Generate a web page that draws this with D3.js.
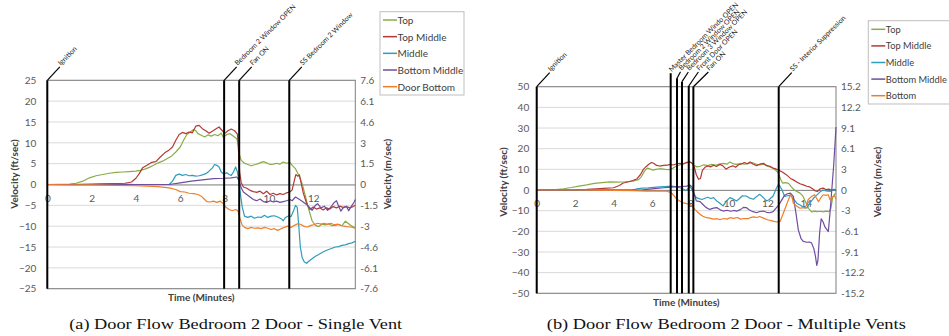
<!DOCTYPE html>
<html>
<head>
<meta charset="utf-8">
<script src="https://cdn.jsdelivr.net/npm/d3@7"></script>
<style>
  html, body { margin: 0; padding: 0; background: #ffffff; }
  svg { display: block; }
  .tick text { font-family: Lato, "Liberation Sans", sans-serif; font-size: 10px; fill: #595959; }
</style>
</head>
<body>
<svg id="chart" width="949" height="336"></svg>
<script>
// ---------- Panel (a): Door Flow Bedroom 2 Door - Single Vent ----------
// each series: [time (minutes), velocity (ft/sec)]
const aTop = [[0,0],[0.5,0.05],[1,0.1],[1.3,0.3],[1.6,0.8],[1.9,1.6],[2.2,2.1],[2.5,2.4],[2.8,2.7],[3.1,2.9],[3.4,3.0],[3.7,3.1],[4.0,3.2],[4.2,3.4],[4.4,3.7],[4.6,4.1],[4.8,4.6],[5.0,5.2],[5.2,5.6],[5.4,6.2],[5.6,6.8],[5.8,7.8],[6.0,9.0],[6.15,10.6],[6.3,12.0],[6.45,12.6],[6.6,13.2],[6.7,12.9],[6.8,12.2],[6.95,11.8],[7.1,11.4],[7.25,11.9],[7.4,11.6],[7.55,12.0],[7.7,11.7],[7.85,12.3],[7.95,11.3],[8.1,12.0],[8.25,12.2],[8.4,11.6],[8.55,11.0],[8.62,9.5],[8.68,7.0],[8.75,5.8],[8.9,5.1],[9.05,4.8],[9.2,4.5],[9.4,4.8],[9.6,5.2],[9.75,5.5],[9.9,5.2],[10.05,4.8],[10.2,4.9],[10.35,5.1],[10.5,4.9],[10.65,5.4],[10.8,5.1],[10.95,5.3],[11.05,4.6],[11.2,3.8],[11.35,2.2],[11.5,0.2],[11.65,-2.8],[11.8,-6.0],[11.95,-8.7],[12.1,-9.8],[12.25,-10.1],[12.4,-9.5],[12.55,-9.7],[12.7,-9.4],[12.85,-9.9],[13.0,-9.8],[13.15,-9.6],[13.3,-9.9],[13.45,-8.8],[13.6,-9.4],[13.75,-10.0],[13.9,-10.4]];
const aTopMiddle = [[0,0],[1,0],[2,0.1],[3,0.2],[3.5,0.3],[3.8,0.6],[4.0,1.5],[4.15,2.6],[4.3,4.0],[4.5,4.6],[4.7,5.3],[4.9,5.5],[5.1,6.6],[5.3,7.6],[5.5,8.3],[5.65,9.0],[5.8,10.6],[5.95,12.0],[6.1,12.5],[6.25,12.2],[6.4,12.6],[6.55,12.4],[6.7,14.0],[6.85,14.2],[7.0,13.4],[7.15,12.9],[7.3,12.3],[7.45,12.8],[7.6,13.3],[7.75,13.8],[7.9,12.9],[8.0,12.2],[8.15,12.9],[8.3,13.3],[8.45,12.9],[8.58,12.1],[8.63,8.0],[8.68,3.0],[8.75,0.5],[8.85,-0.6],[9.0,-0.9],[9.15,-1.4],[9.3,-1.7],[9.45,-1.9],[9.6,-1.6],[9.75,-2.2],[9.9,-1.6],[10.05,-2.4],[10.2,-2.1],[10.35,-2.5],[10.5,-2.2],[10.65,-2.4],[10.8,-2.0],[10.95,-1.8],[11.05,-1.3],[11.15,1.0],[11.22,2.4],[11.3,2.0],[11.38,2.3],[11.45,0.5],[11.55,-2.0],[11.7,-4.5],[11.85,-6.0],[12.0,-5.4],[12.15,-5.9],[12.3,-5.6],[12.45,-6.1],[12.6,-5.6],[12.75,-5.9],[12.9,-5.3],[13.05,-5.6],[13.2,-5.2],[13.35,-5.5],[13.5,-5.3],[13.65,-5.6],[13.8,-5.3],[13.9,-5.0]];
const aMiddle = [[0,0],[1,0],[2,0],[3,0.05],[4,0],[5,0],[5.5,0],[5.65,0.8],[5.8,2.2],[5.95,2.5],[6.1,2.2],[6.25,2.4],[6.4,2.1],[6.55,2.2],[6.7,2.0],[6.85,2.1],[7.0,2.3],[7.15,2.6],[7.3,3.2],[7.45,4.0],[7.55,4.8],[7.65,4.6],[7.75,4.2],[7.85,3.0],[7.95,2.6],[8.1,2.8],[8.2,2.4],[8.3,2.2],[8.4,3.0],[8.5,4.2],[8.58,3.0],[8.65,0.5],[8.72,-2.5],[8.8,-5.5],[8.9,-7.6],[9.05,-7.9],[9.2,-7.6],[9.35,-8.1],[9.5,-7.8],[9.65,-7.9],[9.8,-7.4],[9.95,-7.9],[10.1,-7.6],[10.25,-7.5],[10.4,-7.8],[10.55,-8.2],[10.65,-8.7],[10.75,-7.9],[10.9,-7.5],[11.0,-7.7],[11.1,-6.5],[11.2,-5.0],[11.28,-5.5],[11.35,-10.0],[11.42,-15.0],[11.5,-17.5],[11.6,-18.6],[11.7,-18.9],[11.8,-18.4],[11.95,-17.8],[12.1,-17.2],[12.25,-16.8],[12.4,-16.3],[12.55,-15.9],[12.7,-15.6],[12.85,-15.3],[13.0,-15.0],[13.15,-14.9],[13.3,-14.6],[13.45,-14.5],[13.6,-14.2],[13.75,-14.0],[13.9,-13.6]];
const aBottomMiddle = [[0,0],[1,0],[2,0],[3,0.1],[4,0],[5,0],[5.5,0],[6.0,0.4],[6.5,0.8],[7.0,1.1],[7.5,1.4],[8.0,1.5],[8.3,1.6],[8.55,1.8],[8.65,1.0],[8.75,-0.8],[8.85,-1.8],[9.0,-2.4],[9.15,-3.0],[9.3,-3.6],[9.45,-3.9],[9.6,-3.5],[9.75,-4.1],[9.9,-4.3],[10.05,-3.9],[10.2,-4.2],[10.35,-4.0],[10.5,-4.3],[10.65,-4.1],[10.8,-3.9],[10.95,-3.6],[11.05,-3.9],[11.2,-3.0],[11.35,-3.5],[11.5,-4.0],[11.65,-4.6],[11.8,-5.3],[11.95,-6.2],[12.1,-5.0],[12.2,-4.6],[12.35,-5.6],[12.5,-5.2],[12.65,-6.2],[12.8,-5.4],[12.95,-4.3],[13.05,-3.9],[13.15,-5.2],[13.25,-6.4],[13.35,-5.6],[13.5,-5.2],[13.6,-6.3],[13.75,-5.0],[13.85,-4.2],[13.9,-3.6]];
const aDoorBottom = [[0,0],[1,-0.1],[2,-0.1],[3,-0.2],[4,-0.3],[4.5,-0.4],[5.0,-0.5],[5.5,-0.8],[5.8,-1.2],[6.0,-1.7],[6.2,-1.8],[6.4,-2.1],[6.6,-2.2],[6.8,-2.4],[6.95,-2.8],[7.1,-3.6],[7.2,-4.1],[7.35,-4.2],[7.5,-4.0],[7.65,-4.3],[7.8,-4.0],[7.95,-4.6],[8.05,-5.4],[8.2,-6.0],[8.35,-6.3],[8.5,-6.0],[8.6,-6.3],[8.7,-8.2],[8.8,-9.8],[8.9,-10.3],[9.05,-10.6],[9.2,-10.3],[9.35,-10.5],[9.5,-10.4],[9.65,-10.6],[9.8,-10.3],[9.95,-10.5],[10.1,-10.8],[10.25,-10.6],[10.4,-11.0],[10.55,-10.6],[10.7,-10.3],[10.85,-10.0],[11.0,-10.3],[11.15,-9.8],[11.3,-9.4],[11.45,-9.6],[11.6,-10.1],[11.75,-10.2],[11.9,-9.8],[12.05,-9.6],[12.2,-9.3],[12.35,-9.5],[12.5,-9.3],[12.65,-9.6],[12.8,-9.3],[12.95,-9.7],[13.1,-9.5],[13.3,-9.9],[13.5,-10.1],[13.7,-10.2],[13.9,-10.5]];
const aSeriesNames = ["Top", "Top Middle", "Middle", "Bottom Middle", "Door Bottom"];
const aEventNames = ["Ignition", "Bedroom 2 Window OPEN", "Fan ON", "SS Bedroom 2 Window"];
const aEventTimes = [0, 7.98, 8.66, 10.92];
const aLeftTicks = [-25, -20, -15, -10, -5, 0, 5, 10, 15, 20, 25];
const aRightTickLabels = ["-7.6", "-6.1", "-4.6", "-3", "-1.5", "0", "1.5", "3", "4.6", "6.1", "7.6"];
const aTimeTicks = [0, 2, 4, 6, 8, 10, 12];
const aCaption = "(a) Door Flow Bedroom 2 Door - Single Vent";

// ---------- Panel (b): Door Flow Bedroom 2 Door - Multiple Vents ----------
const bTop = [[0,0],[0.5,0],[1,0.2],[1.4,0.6],[1.8,1.2],[2.2,1.9],[2.6,2.5],[3.0,3.2],[3.4,3.6],[3.8,3.9],[4.2,3.8],[4.6,4.0],[5.0,4.3],[5.3,5.0],[5.45,6.5],[5.6,9.0],[5.75,10.6],[5.9,10.2],[6.05,9.6],[6.2,10.0],[6.4,10.3],[6.6,10.1],[6.8,9.8],[6.95,10.0],[7.1,10.6],[7.25,11.5],[7.4,12.0],[7.55,12.5],[7.7,12.9],[7.85,13.2],[7.97,13.6],[8.1,12.9],[8.2,11.8],[8.35,11.2],[8.5,11.5],[8.7,12.2],[8.9,11.8],[9.1,12.4],[9.3,12.0],[9.5,12.6],[9.7,12.9],[9.9,12.5],[10.05,13.6],[10.2,12.8],[10.4,12.4],[10.6,12.9],[10.8,12.5],[11.0,12.7],[11.2,13.3],[11.4,12.6],[11.6,12.1],[11.8,12.5],[12.0,11.5],[12.2,10.9],[12.4,9.8],[12.55,8.6],[12.7,5.0],[12.8,3.3],[12.95,3.6],[13.1,3.2],[13.25,1.5],[13.4,0.0],[13.55,-0.8],[13.7,-1.5],[13.85,-3.0],[14.0,-6.0],[14.15,-9.0],[14.3,-10.6],[14.45,-10.2],[14.6,-10.5],[14.75,-10.3],[14.9,-10.6],[15.05,-10.2],[15.2,-10.5],[15.3,-9.0],[15.4,-3.5],[15.5,-2.0],[15.57,-1.5]];
const bTopMiddle = [[0,0],[1,0],[2,0.1],[2.6,0.3],[3.1,0.6],[3.5,0.8],[4.0,1.1],[4.3,2.2],[4.5,3.4],[4.8,4.0],[5.0,4.6],[5.2,5.3],[5.4,7.5],[5.55,10.0],[5.7,11.4],[5.85,12.6],[5.98,13.3],[6.1,12.8],[6.24,11.9],[6.4,11.6],[6.6,11.9],[6.8,12.0],[6.93,12.4],[7.1,12.1],[7.25,12.6],[7.45,12.9],[7.6,12.5],[7.8,13.4],[7.97,13.6],[8.1,12.8],[8.2,11.0],[8.3,7.5],[8.42,5.2],[8.52,5.6],[8.62,9.5],[8.75,11.0],[8.9,11.6],[9.05,11.2],[9.2,12.0],[9.35,11.4],[9.53,12.4],[9.7,11.6],[9.85,10.1],[10.0,11.0],[10.2,11.7],[10.35,11.0],[10.5,12.2],[10.65,12.6],[10.8,13.3],[10.95,12.7],[11.1,13.6],[11.25,12.6],[11.44,11.8],[11.6,12.5],[11.8,12.9],[11.95,11.9],[12.13,11.5],[12.3,10.6],[12.45,10.2],[12.6,9.6],[12.8,8.6],[13.0,7.3],[13.2,5.6],[13.35,4.9],[13.55,3.8],[13.7,3.0],[13.87,2.5],[14.05,1.8],[14.2,1.5],[14.35,0.6],[14.5,-0.5],[14.6,-0.7],[14.75,0.6],[14.9,0.9],[15.05,0.2],[15.2,0.4],[15.35,-0.2],[15.45,0.3],[15.57,0.1]];
const bMiddle = [[0,0],[1,0],[2,0],[3,0],[4,0],[5,0.1],[5.2,0.5],[5.5,0.9],[5.8,1.0],[6.1,1.3],[6.4,1.5],[6.7,1.7],[7.0,1.9],[7.2,1.6],[7.4,1.2],[7.6,0.6],[7.75,-0.3],[7.85,0.4],[7.97,1.9],[8.08,0.2],[8.18,-1.8],[8.3,-3.7],[8.45,-4.2],[8.6,-4.6],[8.75,-4.0],[8.9,-3.5],[9.05,-4.1],[9.2,-3.7],[9.36,-5.3],[9.5,-6.2],[9.7,-7.7],[9.85,-5.5],[10.05,-3.7],[10.2,-4.3],[10.4,-5.3],[10.55,-4.1],[10.7,-2.8],[10.9,-2.9],[11.05,-3.8],[11.27,-4.5],[11.45,-3.1],[11.6,-2.1],[11.75,-3.3],[11.96,-5.3],[12.1,-4.6],[12.3,-2.9],[12.45,0.5],[12.57,2.7],[12.66,1.7],[12.75,0.3],[12.9,-3.1],[13.05,-2.8],[13.2,-2.5],[13.35,-4.2],[13.53,-6.4],[13.7,-7.3],[13.87,-8.2],[14.05,-8.8],[14.2,-6.4],[14.4,-4.0],[14.57,-2.5],[14.75,-0.8],[14.9,0.0],[15.05,-0.4],[15.26,-0.7],[15.4,0.2],[15.57,-0.4]];
const bBottomMiddle = [[0,0],[1,0],[2,0],[3,0],[4,0],[5,0],[5.5,0.1],[6.0,0.5],[6.6,1.1],[7.0,1.4],[7.3,1.6],[7.6,1.7],[7.8,1.9],[7.97,2.4],[8.08,1.5],[8.18,-1.5],[8.3,-5.3],[8.5,-5.6],[8.65,-7.0],[8.8,-8.4],[9.0,-9.4],[9.2,-8.8],[9.36,-8.5],[9.55,-9.6],[9.7,-10.2],[9.9,-9.8],[10.1,-10.3],[10.25,-9.9],[10.4,-10.2],[10.6,-9.5],[10.75,-8.4],[10.9,-8.5],[11.05,-9.6],[11.25,-10.5],[11.44,-11.0],[11.6,-10.4],[11.8,-10.2],[11.95,-10.8],[12.13,-11.0],[12.3,-10.5],[12.45,-8.8],[12.6,-7.2],[12.75,-4.8],[12.9,-2.5],[13.05,-1.8],[13.2,-1.5],[13.35,-3.1],[13.5,-12.0],[13.61,-19.3],[13.75,-23.5],[13.87,-24.9],[14.05,-25.3],[14.2,-25.2],[14.3,-25.7],[14.42,-28.5],[14.5,-32.0],[14.57,-36.5],[14.63,-34.0],[14.72,-20.5],[14.8,-14.0],[14.9,-15.5],[15.0,-18.0],[15.1,-19.2],[15.17,-20.1],[15.25,-12.0],[15.35,0.0],[15.45,12.0],[15.57,30.5]];
const bBottom = [[0,0],[1,0],[2,0],[3,-0.1],[4,-0.2],[5,-0.3],[5.7,-0.5],[6.2,-0.5],[6.76,-0.6],[7.0,-1.3],[7.15,-2.8],[7.3,-4.5],[7.45,-5.4],[7.6,-6.1],[7.8,-6.6],[7.97,-6.9],[8.1,-8.0],[8.23,-9.4],[8.35,-10.5],[8.5,-11.8],[8.65,-12.7],[8.84,-13.4],[9.0,-13.6],[9.2,-14.1],[9.36,-13.9],[9.55,-14.3],[9.75,-13.8],[9.9,-14.1],[10.05,-13.4],[10.25,-13.7],[10.45,-13.3],[10.6,-14.1],[10.8,-13.8],[11.0,-13.9],[11.1,-13.4],[11.3,-13.0],[11.45,-13.3],[11.6,-12.8],[11.8,-13.6],[12.0,-14.4],[12.2,-14.8],[12.35,-15.2],[12.5,-15.5],[12.66,-15.2],[12.78,-12.5],[12.9,-9.6],[13.05,-5.8],[13.2,-2.3],[13.28,-3.5],[13.35,-6.4],[13.5,-7.6],[13.7,-8.8],[13.85,-8.6],[13.96,-8.8],[14.05,-6.8],[14.12,-4.7],[14.3,-3.1],[14.45,-2.3],[14.55,-3.9],[14.66,-5.6],[14.8,-3.5],[14.9,-2.3],[15.05,-2.6],[15.17,-2.3],[15.26,-4.8],[15.4,-3.2],[15.5,-2.8],[15.57,-4.5]];
const bSeriesNames = ["Top", "Top Middle", "Middle", "Bottom Middle", "Bottom"];
const bEventNames = ["Ignition", "Master Bedroom Windo OPEN", "Bedroom 2 Window OPEN", "Bedroom 3 Window OPEN", "Front Door OPEN", "Fan ON", "SS - Interior Suppression"];
const bEventTimes = [0, 6.97, 7.30, 7.56, 7.91, 8.15, 12.59];
const bLeftTicks = [-50, -40, -30, -20, -10, 0, 10, 20, 30, 40, 50];
const bRightTickLabels = ["-15.2", "-12.2", "-9.1", "-6.1", "-3", "0", "3", "6.1", "9.1", "12.2", "15.2"];
const bTimeTicks = [0, 2, 4, 6, 8, 10, 12, 14];
const bCaption = "(b) Door Flow Bedroom 2 Door - Multiple Vents";

// ---------- shared styling ----------
const seriesColors = ["#88ad44", "#b23a36", "#2e9cbd", "#6e4e9e", "#f07d2a"];
const FT_TO_M = 0.3048;
const uiFont = "Lato, 'Liberation Sans', sans-serif";

const svg = d3.select("#chart");

function drawPanel(p) {
  const g = svg.append("g");
  const x = d3.scaleLinear().domain([0, p.tMax]).range([p.left, p.right]);
  const y = d3.scaleLinear().domain(d3.extent(p.leftTicks)).range([p.bottom, p.top]);
  const yM = d3.scaleLinear().domain(d3.extent(p.leftTicks).map(v => v * FT_TO_M)).range([p.bottom, p.top]);

  // horizontal gridlines
  g.append("g").selectAll("line").data(p.leftTicks).join("line")
    .attr("x1", p.left).attr("x2", p.right)
    .attr("y1", d => y(d)).attr("y2", d => y(d))
    .attr("stroke", "#d9d9d9").attr("stroke-width", 1);

  // plot-area frame
  g.append("rect")
    .attr("x", p.left).attr("y", p.top)
    .attr("width", p.right - p.left).attr("height", p.bottom - p.top)
    .attr("fill", "none").attr("stroke", "#7f7f7f").attr("stroke-width", 1);

  // zero line / time axis
  const xAxis = g.append("g").attr("transform", `translate(0,${y(0)})`)
    .call(d3.axisBottom(x).tickValues(p.timeTicks).tickSize(0).tickPadding(10).tickFormat(d3.format("d")));
  xAxis.select(".domain").attr("stroke", "#8c8c8c");

  // left axis (ft/sec)
  const yAxisL = g.append("g").attr("transform", `translate(${p.left},0)`)
    .call(d3.axisLeft(y).tickValues(p.leftTicks).tickSize(0).tickPadding(p.leftPad));
  yAxisL.select(".domain").remove();

  // right axis (m/sec)
  const yAxisR = g.append("g").attr("transform", `translate(${p.right},0)`)
    .call(d3.axisRight(yM).tickValues(p.leftTicks.map(v => v * FT_TO_M))
      .tickSize(0).tickPadding(5).tickFormat((d, i) => p.rightTickLabels[i]));
  yAxisR.select(".domain").remove();

  // data lines
  const line = d3.line().x(d => x(d[0])).y(d => y(d[1]));
  const clipId = "clip-" + p.id;
  svg.append("clipPath").attr("id", clipId).append("rect")
    .attr("x", p.left).attr("y", p.top - 1).attr("width", p.right - p.left + 1).attr("height", p.bottom - p.top + 2);
  const lines = g.append("g").attr("clip-path", `url(#${clipId})`);
  p.series.forEach((s, i) => {
    lines.append("path").datum(s)
      .attr("d", line)
      .attr("fill", "none")
      .attr("stroke", seriesColors[i])
      .attr("stroke-width", 1.2)
      .attr("stroke-linejoin", "round");
  });

  // event markers with angled labels
  const ev = g.append("g");
  p.eventTimes.forEach((t, i) => {
    const ex = x(t);
    const [rise, dx, dy] = p.leaders[i];
    const topY = p.top - rise;
    ev.append("line")
      .attr("x1", ex).attr("x2", ex).attr("y1", p.bottom).attr("y2", topY)
      .attr("stroke", "#000").attr("stroke-width", 2);
    if (dx !== 0 || dy !== 0) {
      ev.append("line")
        .attr("x1", ex).attr("y1", topY).attr("x2", ex + dx).attr("y2", topY + dy)
        .attr("stroke", "#000").attr("stroke-width", 1.2);
    }
    ev.append("text")
      .attr("transform", `translate(${ex + dx + 1},${topY + dy - 1}) rotate(-45)`)
      .attr("font-family", uiFont).attr("font-size", 7).attr("fill", "#262626")
      .text(p.eventNames[i]);
  });

  // axis titles
  g.append("text")
    .attr("transform", `translate(${p.leftTitleX},${p.titleY}) rotate(-90)`)
    .attr("text-anchor", "middle").attr("dominant-baseline", "central")
    .attr("font-family", uiFont).attr("font-size", 10).attr("font-weight", "bold").attr("fill", "#404040")
    .text("Velocity (ft/sec)");
  g.append("text")
    .attr("transform", `translate(${p.rightTitleX},${p.titleY}) rotate(-90)`)
    .attr("text-anchor", "middle").attr("dominant-baseline", "central")
    .attr("font-family", uiFont).attr("font-size", 10).attr("font-weight", "bold").attr("fill", "#404040")
    .text("Velocity (m/sec)");
  g.append("text")
    .attr("x", (p.left + p.right) / 2).attr("y", p.timeTitleY)
    .attr("text-anchor", "middle").attr("dominant-baseline", "central")
    .attr("font-family", uiFont).attr("font-size", 10).attr("font-weight", "bold").attr("fill", "#404040")
    .text("Time (Minutes)");

  // legend
  const lg = g.append("g");
  lg.append("rect")
    .attr("x", p.legend.x).attr("y", p.legend.y).attr("width", p.legend.w).attr("height", p.legend.h)
    .attr("fill", "#fff").attr("stroke", "#bfbfbf");
  p.seriesNames.forEach((name, i) => {
    const ly = p.legend.y + p.legend.first + i * p.legend.step;
    lg.append("line")
      .attr("x1", p.legend.x + 3).attr("x2", p.legend.x + 17).attr("y1", ly).attr("y2", ly)
      .attr("stroke", seriesColors[i]).attr("stroke-width", 1.5);
    lg.append("text")
      .attr("x", p.legend.x + 17.5).attr("y", ly).attr("dominant-baseline", "central")
      .attr("font-family", uiFont).attr("font-size", p.legend.font).attr("fill", "#404040")
      .text(name);
  });

  // caption
  svg.append("text")
    .attr("x", p.captionX).attr("y", 329)
    .attr("text-anchor", "middle")
    .attr("font-family", "'Liberation Serif', 'Times New Roman', serif").attr("font-size", 14.5)
    .attr("fill", "#111")
    .attr("textLength", p.captionW).attr("lengthAdjust", "spacingAndGlyphs")
    .text(p.caption);
}

drawPanel({
  id: "a",
  series: [aTop, aTopMiddle, aMiddle, aBottomMiddle, aDoorBottom],
  seriesNames: aSeriesNames,
  eventTimes: aEventTimes, eventNames: aEventNames,
  leaders: [[0, 12.5, -13.5], [0, 12.5, -13.5], [0, 12.5, -13.5], [0, 12.5, -13.5]],
  leftTicks: aLeftTicks, rightTickLabels: aRightTickLabels, timeTicks: aTimeTicks,
  tMax: 13.9, left: 47.3, right: 355.3, top: 80.3, bottom: 288.7,
  leftPad: 11, leftTitleX: 14, rightTitleX: 387, titleY: 174, timeTitleY: 297,
  legend: { x: 380, y: 11.7, w: 84, h: 83.3, first: 8.3, step: 16.67, font: 10 },
  caption: aCaption, captionX: 235.7, captionW: 333
});

drawPanel({
  id: "b",
  series: [bTop, bTopMiddle, bMiddle, bBottomMiddle, bBottom],
  seriesNames: bSeriesNames,
  eventTimes: bEventTimes, eventNames: bEventNames,
  leaders: [[0, 13, -14], [13.5, 0, 0], [8.5, 3.5, -6.5], [5, 6.3, -9.7], [0.7, 9.6, -14], [0, 15, -14.7], [0, 13, -14]],
  leftTicks: bLeftTicks, rightTickLabels: bRightTickLabels, timeTicks: bTimeTicks,
  tMax: 15.57, left: 536.7, right: 836, top: 86.7, bottom: 293.3,
  leftPad: 7.5, leftTitleX: 503, rightTitleX: 877, titleY: 182, timeTitleY: 301.5,
  legend: { x: 868.3, y: 20.7, w: 84, h: 83.3, first: 8.6, step: 16.6, font: 9.3 },
  caption: bCaption, captionX: 726.3, captionW: 359
});
</script>
</body>
</html>
